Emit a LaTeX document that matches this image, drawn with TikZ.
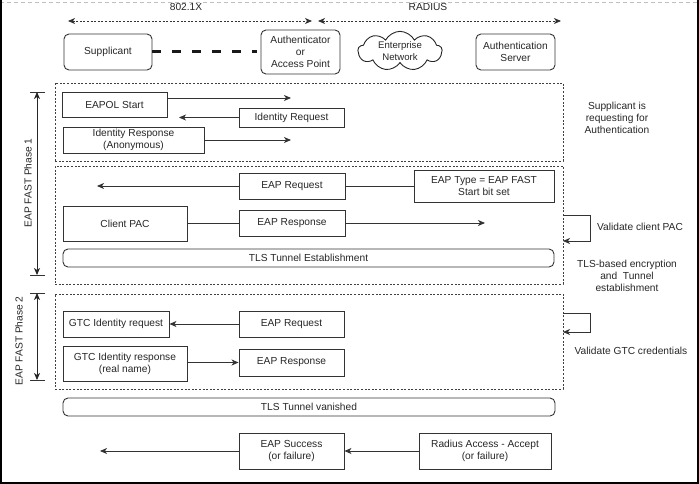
\documentclass[tikz,border=0pt]{standalone}
\usepackage{fontspec}
\setmainfont{Liberation Sans}
\usetikzlibrary{arrows.meta,shapes.symbols}
\begin{document}
\begin{tikzpicture}[x=1pt,y=-1pt,
  every node/.style={font=\fontsize{10.2}{12.2}\selectfont, text=black!85, align=center},
  box/.style={draw=black!80, line width=0.9pt, inner sep=0pt},
  rbox/.style={box, rounded corners=5pt},
  dbox/.style={draw=black!75, line width=0.9pt, dash pattern=on 2pt off 1.6pt},
  arr/.style={draw=black!80, line width=0.9pt, -{Stealth[length=7pt,width=6pt,inset=2pt]}},
  plain/.style={draw=black!80, line width=0.9pt},
  darr/.style={draw=black!80, line width=0.9pt, dash pattern=on 2pt off 1.6pt, {Stealth[length=7pt,width=6pt,inset=2pt]}-{Stealth[length=7pt,width=6pt,inset=2pt]}},
  parr/.style={draw=black!85, line width=0.9pt, {Stealth[length=7pt,width=6pt,inset=2pt]}-{Stealth[length=7pt,width=6pt,inset=2pt]}},
  lbl/.style={inner sep=0pt}
]
\useasboundingbox (0,0) rectangle (699,484);
% frame
\draw[black!25, line width=1pt, dash pattern=on 4pt off 3pt] (0,2.5) -- (699,2.5);
\draw[black, line width=1.6pt] (0.8,0) -- (0.8,483.2) -- (697.7,483.2) -- (697.7,0);

% header
\node[lbl] (l8021x) at (186,7) {802.1X};
\node[lbl] (lradius) at (428,7) {RADIUS};
\coordinate (h1) at (68,21); \coordinate (h2) at (312,21);
\coordinate (h3) at (318,21); \coordinate (h4) at (561,21);
\draw[darr] (h1) -- (h2);
\draw[darr] (h3) -- (h4);

\node[rbox, minimum width=88pt, minimum height=36pt] (sup) at (108,52) {Supplicant};
\node[rbox, minimum width=79pt, minimum height=44pt] (auth) at (300.5,52) {Authenticator\\or\\Access Point};
\node[draw=black!85, line width=0.9pt, cloud, cloud puffs=9, cloud puff arc=125, aspect=2.2, minimum width=84pt, minimum height=36pt, inner sep=0pt,
      font=\fontsize{9.6}{11.2}\selectfont] (net) at (400,51) {Enterprise\\Network};
\node[rbox, minimum width=79pt, minimum height=36pt] (srv) at (515.5,52) {Authentication\\Server};
\draw[black!90, line width=3pt, dash pattern=on 9pt off 11pt] (sup.east) -- ([xshift=-4pt]auth.west);

% dashed group boxes
\node[dbox, minimum width=508pt, minimum height=78pt, inner sep=0pt] (g1) at (309,122) {};
\node[dbox, minimum width=508pt, minimum height=118pt, inner sep=0pt] (g2) at (309,225) {};
\node[dbox, minimum width=508pt, minimum height=95pt, inner sep=0pt] (g3) at (309,341.5) {};

% phase 1 group
\node[box, minimum width=105pt, minimum height=25pt] (eapol) at (114.5,104.5) {EAPOL Start};
\node[box, minimum width=105pt, minimum height=19pt] (idreq) at (291.5,117.5) {Identity Request};
\node[box, minimum width=141pt, minimum height=26pt] (idresp) at (133.5,140) {Identity Response\\(Anonymous)};
\coordinate (e1) at (291,98);
\coordinate (e2) at (179,117.5);
\coordinate (e3) at (291,140);
\draw[arr] (eapol.east |- e1) -- (e1);
\draw[arr] (idreq.west) -- (e2);
\draw[arr] (idresp.east) -- (e3);

% group 2
\node[box, minimum width=106pt, minimum height=26pt] (eapreq1) at (292,186) {EAP Request};
\node[box, minimum width=140pt, minimum height=32pt] (eaptype) at (484,186) {EAP Type = EAP FAST\\Start bit set};
\node[box, minimum width=124pt, minimum height=35pt] (cpac) at (125,223.5) {Client PAC};
\node[box, minimum width=106pt, minimum height=26pt] (eapresp1) at (292,223) {EAP Response};
\node[rbox, minimum width=491pt, minimum height=18pt] (tls1) at (308.5,258) {TLS Tunnel Establishment};
\coordinate (e4) at (97,186);
\coordinate (e5) at (485,223);
\draw[arr] (eapreq1.west) -- (e4);
\draw[plain] (eapreq1.east) -- (eaptype.west);
\draw[plain] (cpac.east |- eapresp1.west) -- (eapresp1.west);
\draw[arr] (eapresp1.east) -- (e5);
\coordinate (v1a) at (563,215); \coordinate (v1b) at (590,241);
\draw[arr] (v1a) -- (v1a -| v1b) -- (v1b) -- (v1b -| v1a);

% group 3
\node[box, minimum width=106pt, minimum height=26pt] (gtcreq) at (116,324) {GTC Identity request};
\node[box, minimum width=105pt, minimum height=26pt] (eapreq2) at (291.5,324) {EAP Request};
\node[box, minimum width=124pt, minimum height=35pt] (gtcresp) at (125,363.5) {GTC Identity response\\(real name)};
\node[box, minimum width=105pt, minimum height=27pt] (eapresp2) at (291.5,362.5) {EAP Response};
\draw[arr] (eapreq2.west) -- (gtcreq.east);
\draw[arr] (gtcresp.east |- eapresp2.west) -- (eapresp2.west);
\coordinate (v2a) at (563,313); \coordinate (v2b) at (590,332);
\draw[arr] (v2a) -- (v2a -| v2b) -- (v2b) -- (v2b -| v2a);

% bottom
\node[rbox, minimum width=492pt, minimum height=18pt] (tls2) at (309,407) {TLS Tunnel vanished};
\node[box, minimum width=105pt, minimum height=36pt] (succ) at (291.5,451) {EAP Success\\(or failure)};
\node[box, minimum width=132pt, minimum height=36pt] (rad) at (485,451) {Radius Access - Accept\\(or failure)};
\coordinate (e6) at (100,451);
\draw[arr] (succ.west) -- (e6);
\draw[arr] (rad.west) -- (succ.east);

% right labels
\node[lbl] (t1) at (617,118) {Supplicant is\\requesting for\\Authentication};
\node[lbl] (t2) at (640,227) {Validate client PAC};
\node[lbl] (t3) at (627,276) {TLS-based encryption\\and\ \ Tunnel\\establishment};
\node[lbl] (t4) at (631,351) {Validate GTC credentials};

% phase markers
\coordinate (p1t) at (37,92); \coordinate (p1b) at (37,275);
\coordinate (p2t) at (37,293); \coordinate (p2b) at (37,380);
\draw[plain] ([xshift=-7pt]p1t) -- ([xshift=8pt]p1t);
\draw[plain] ([xshift=-7pt]p1b) -- ([xshift=8pt]p1b);
\draw[plain] ([xshift=-7pt]p2t) -- ([xshift=8pt]p2t);
\draw[plain] ([xshift=-7pt]p2b) -- ([xshift=8pt]p2b);
\draw[parr] (p1t) -- (p1b);
\draw[parr] (p2t) -- (p2b);
\node[lbl, rotate=90] (ph1) at (28,183) {EAP FAST Phase 1};
\node[lbl, rotate=90] (ph2) at (19,341) {EAP FAST Phase 2};
\end{tikzpicture}
\end{document}
